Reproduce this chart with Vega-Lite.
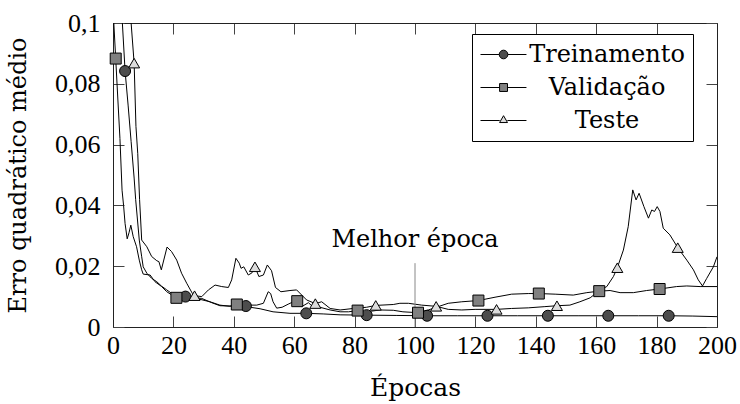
{
  "$schema": "https://vega.github.io/schema/vega-lite/v6.json",
  "width": 604,
  "height": 304,
  "autosize": {"type": "none"},
  "padding": {"left": 113, "top": 23, "right": 23, "bottom": 77},
  "background": "white",
  "config": {"view": {"stroke": null}, "font": "DejaVu Serif"},
  "datasets": {
    "curves": [
      {"s": "Treinamento", "e": 0, "v": 0.16}, {"s": "Treinamento", "e": 2, "v": 0.115}, {"s": "Treinamento", "e": 3.1, "v": 0.1}, {"s": "Treinamento", "e": 4, "v": 0.0842}, {"s": "Treinamento", "e": 5, "v": 0.073}, {"s": "Treinamento", "e": 6, "v": 0.061}, {"s": "Treinamento", "e": 7, "v": 0.049}, {"s": "Treinamento", "e": 7.5, "v": 0.042}, {"s": "Treinamento", "e": 8.7, "v": 0.0286}, {"s": "Treinamento", "e": 9.5, "v": 0.0231}, {"s": "Treinamento", "e": 10, "v": 0.0198}, {"s": "Treinamento", "e": 11.2, "v": 0.0177}, {"s": "Treinamento", "e": 12.8, "v": 0.016}, {"s": "Treinamento", "e": 14.5, "v": 0.0149}, {"s": "Treinamento", "e": 16, "v": 0.0135}, {"s": "Treinamento", "e": 17.8, "v": 0.0122}, {"s": "Treinamento", "e": 19.5, "v": 0.011}, {"s": "Treinamento", "e": 21.1, "v": 0.0103}, {"s": "Treinamento", "e": 24, "v": 0.01}, {"s": "Treinamento", "e": 26.5, "v": 0.0097}, {"s": "Treinamento", "e": 29.4, "v": 0.0094}, {"s": "Treinamento", "e": 32.7, "v": 0.008}, {"s": "Treinamento", "e": 35.4, "v": 0.007}, {"s": "Treinamento", "e": 39.3, "v": 0.0069}, {"s": "Treinamento", "e": 44, "v": 0.0069}, {"s": "Treinamento", "e": 45.4, "v": 0.0065}, {"s": "Treinamento", "e": 48.7, "v": 0.006}, {"s": "Treinamento", "e": 53, "v": 0.005}, {"s": "Treinamento", "e": 58.6, "v": 0.0045}, {"s": "Treinamento", "e": 64, "v": 0.0045}, {"s": "Treinamento", "e": 69.6, "v": 0.0043}, {"s": "Treinamento", "e": 75.2, "v": 0.004}, {"s": "Treinamento", "e": 84, "v": 0.0039}, {"s": "Treinamento", "e": 94, "v": 0.0038}, {"s": "Treinamento", "e": 104, "v": 0.0037}, {"s": "Treinamento", "e": 114, "v": 0.0037}, {"s": "Treinamento", "e": 124, "v": 0.0037}, {"s": "Treinamento", "e": 134, "v": 0.0037}, {"s": "Treinamento", "e": 144, "v": 0.0037}, {"s": "Treinamento", "e": 154, "v": 0.0037}, {"s": "Treinamento", "e": 164, "v": 0.0037}, {"s": "Treinamento", "e": 174, "v": 0.0037}, {"s": "Treinamento", "e": 184, "v": 0.0037}, {"s": "Treinamento", "e": 192, "v": 0.0036}, {"s": "Treinamento", "e": 200, "v": 0.0034},
      {"s": "Validação", "e": 0, "v": 0.105}, {"s": "Validação", "e": 0.9, "v": 0.0883}, {"s": "Validação", "e": 1.6, "v": 0.075}, {"s": "Validação", "e": 2.3, "v": 0.062}, {"s": "Validação", "e": 3.0, "v": 0.045}, {"s": "Validação", "e": 3.5, "v": 0.04}, {"s": "Validação", "e": 4.0, "v": 0.034}, {"s": "Validação", "e": 4.7, "v": 0.029}, {"s": "Validação", "e": 5.3, "v": 0.031}, {"s": "Validação", "e": 5.9, "v": 0.0335}, {"s": "Validação", "e": 6.7, "v": 0.0297}, {"s": "Validação", "e": 7.8, "v": 0.0264}, {"s": "Validação", "e": 8.7, "v": 0.022}, {"s": "Validação", "e": 9.5, "v": 0.0188}, {"s": "Validação", "e": 10, "v": 0.0174}, {"s": "Validação", "e": 12.3, "v": 0.0171}, {"s": "Validação", "e": 13.9, "v": 0.0149}, {"s": "Validação", "e": 16.1, "v": 0.0133}, {"s": "Validação", "e": 17.8, "v": 0.0116}, {"s": "Validação", "e": 21, "v": 0.0096}, {"s": "Validação", "e": 24, "v": 0.0095}, {"s": "Validação", "e": 26.6, "v": 0.0094}, {"s": "Validação", "e": 28.8, "v": 0.0091}, {"s": "Validação", "e": 32.1, "v": 0.0083}, {"s": "Validação", "e": 35.4, "v": 0.0072}, {"s": "Validação", "e": 38.7, "v": 0.0068}, {"s": "Validação", "e": 41, "v": 0.0074}, {"s": "Validação", "e": 44, "v": 0.0072}, {"s": "Validação", "e": 47.6, "v": 0.0072}, {"s": "Validação", "e": 49.8, "v": 0.0078}, {"s": "Validação", "e": 51.4, "v": 0.0116}, {"s": "Validação", "e": 52.2, "v": 0.011}, {"s": "Validação", "e": 53, "v": 0.0083}, {"s": "Validação", "e": 54.2, "v": 0.0062}, {"s": "Validação", "e": 56, "v": 0.0065}, {"s": "Validação", "e": 58, "v": 0.0075}, {"s": "Validação", "e": 59.7, "v": 0.0083}, {"s": "Validação", "e": 61, "v": 0.0085}, {"s": "Validação", "e": 62.5, "v": 0.0067}, {"s": "Validação", "e": 64.7, "v": 0.008}, {"s": "Validação", "e": 66, "v": 0.0068}, {"s": "Validação", "e": 68.5, "v": 0.0065}, {"s": "Validação", "e": 71.9, "v": 0.0056}, {"s": "Validação", "e": 75.2, "v": 0.005}, {"s": "Validação", "e": 78, "v": 0.005}, {"s": "Validação", "e": 81, "v": 0.0054}, {"s": "Validação", "e": 84, "v": 0.005}, {"s": "Validação", "e": 88.4, "v": 0.0056}, {"s": "Validação", "e": 92.8, "v": 0.0055}, {"s": "Validação", "e": 96, "v": 0.005}, {"s": "Validação", "e": 101, "v": 0.0047}, {"s": "Validação", "e": 104.4, "v": 0.0056}, {"s": "Validação", "e": 107.7, "v": 0.0067}, {"s": "Validação", "e": 111, "v": 0.0078}, {"s": "Validação", "e": 115.5, "v": 0.0083}, {"s": "Validação", "e": 121, "v": 0.0087}, {"s": "Validação", "e": 126.5, "v": 0.0098}, {"s": "Validação", "e": 132, "v": 0.0108}, {"s": "Validação", "e": 137.5, "v": 0.011}, {"s": "Validação", "e": 141, "v": 0.011}, {"s": "Validação", "e": 146.4, "v": 0.0108}, {"s": "Validação", "e": 152.4, "v": 0.0105}, {"s": "Validação", "e": 156.9, "v": 0.0113}, {"s": "Validação", "e": 161, "v": 0.0118}, {"s": "Validação", "e": 164.6, "v": 0.012}, {"s": "Validação", "e": 167.9, "v": 0.0113}, {"s": "Validação", "e": 172.3, "v": 0.0113}, {"s": "Validação", "e": 176.7, "v": 0.012}, {"s": "Validação", "e": 181, "v": 0.0125}, {"s": "Validação", "e": 186.6, "v": 0.0133}, {"s": "Validação", "e": 190, "v": 0.0135}, {"s": "Validação", "e": 194.4, "v": 0.0133}, {"s": "Validação", "e": 200, "v": 0.0133},
      {"s": "Teste", "e": 0, "v": 0.2}, {"s": "Teste", "e": 5, "v": 0.112}, {"s": "Teste", "e": 6, "v": 0.1}, {"s": "Teste", "e": 7, "v": 0.0868}, {"s": "Teste", "e": 7.6, "v": 0.066}, {"s": "Teste", "e": 8.2, "v": 0.057}, {"s": "Teste", "e": 8.8, "v": 0.042}, {"s": "Teste", "e": 9.5, "v": 0.0286}, {"s": "Teste", "e": 11.2, "v": 0.0264}, {"s": "Teste", "e": 12.8, "v": 0.0232}, {"s": "Teste", "e": 14.5, "v": 0.0218}, {"s": "Teste", "e": 15.2, "v": 0.0215}, {"s": "Teste", "e": 16, "v": 0.0188}, {"s": "Teste", "e": 17.9, "v": 0.0263}, {"s": "Teste", "e": 19.4, "v": 0.0248}, {"s": "Teste", "e": 21.1, "v": 0.022}, {"s": "Teste", "e": 22.7, "v": 0.0177}, {"s": "Teste", "e": 24.4, "v": 0.0144}, {"s": "Teste", "e": 26.3, "v": 0.011}, {"s": "Teste", "e": 27, "v": 0.0103}, {"s": "Teste", "e": 29.4, "v": 0.01}, {"s": "Teste", "e": 31.6, "v": 0.0122}, {"s": "Teste", "e": 33.8, "v": 0.0138}, {"s": "Teste", "e": 36, "v": 0.0133}, {"s": "Teste", "e": 38.2, "v": 0.013}, {"s": "Teste", "e": 39.3, "v": 0.0155}, {"s": "Teste", "e": 40.7, "v": 0.0226}, {"s": "Teste", "e": 41.8, "v": 0.021}, {"s": "Teste", "e": 42.4, "v": 0.0193}, {"s": "Teste", "e": 43.3, "v": 0.0198}, {"s": "Teste", "e": 44.8, "v": 0.0171}, {"s": "Teste", "e": 46, "v": 0.0178}, {"s": "Teste", "e": 47, "v": 0.0198}, {"s": "Teste", "e": 48.3, "v": 0.0166}, {"s": "Teste", "e": 49.8, "v": 0.0171}, {"s": "Teste", "e": 51.1, "v": 0.0204}, {"s": "Teste", "e": 52.5, "v": 0.0185}, {"s": "Teste", "e": 53.8, "v": 0.013}, {"s": "Teste", "e": 55.6, "v": 0.0116}, {"s": "Teste", "e": 58.6, "v": 0.012}, {"s": "Teste", "e": 60.8, "v": 0.0122}, {"s": "Teste", "e": 62.5, "v": 0.0105}, {"s": "Teste", "e": 64.1, "v": 0.0089}, {"s": "Teste", "e": 67, "v": 0.0077}, {"s": "Teste", "e": 69.1, "v": 0.0083}, {"s": "Teste", "e": 71.9, "v": 0.0061}, {"s": "Teste", "e": 75.2, "v": 0.0056}, {"s": "Teste", "e": 79.6, "v": 0.0061}, {"s": "Teste", "e": 84, "v": 0.0065}, {"s": "Teste", "e": 87, "v": 0.0071}, {"s": "Teste", "e": 92.8, "v": 0.0074}, {"s": "Teste", "e": 95, "v": 0.0078}, {"s": "Teste", "e": 97.8, "v": 0.0078}, {"s": "Teste", "e": 102.2, "v": 0.0072}, {"s": "Teste", "e": 107, "v": 0.0068}, {"s": "Teste", "e": 111, "v": 0.0058}, {"s": "Teste", "e": 115.5, "v": 0.0056}, {"s": "Teste", "e": 119.9, "v": 0.0058}, {"s": "Teste", "e": 127, "v": 0.0058}, {"s": "Teste", "e": 132, "v": 0.0061}, {"s": "Teste", "e": 137.5, "v": 0.0063}, {"s": "Teste", "e": 143, "v": 0.0067}, {"s": "Teste", "e": 147, "v": 0.007}, {"s": "Teste", "e": 151.3, "v": 0.0072}, {"s": "Teste", "e": 154.6, "v": 0.0083}, {"s": "Teste", "e": 158, "v": 0.0096}, {"s": "Teste", "e": 161.3, "v": 0.0122}, {"s": "Teste", "e": 163.5, "v": 0.0133}, {"s": "Teste", "e": 165.7, "v": 0.0166}, {"s": "Teste", "e": 167, "v": 0.0195}, {"s": "Teste", "e": 169, "v": 0.0253}, {"s": "Teste", "e": 170.6, "v": 0.033}, {"s": "Teste", "e": 172.1, "v": 0.0451}, {"s": "Teste", "e": 173.2, "v": 0.0418}, {"s": "Teste", "e": 174.2, "v": 0.044}, {"s": "Teste", "e": 175.8, "v": 0.0396}, {"s": "Teste", "e": 177.3, "v": 0.0358}, {"s": "Teste", "e": 178.4, "v": 0.0385}, {"s": "Teste", "e": 179.3, "v": 0.038}, {"s": "Teste", "e": 180.2, "v": 0.0396}, {"s": "Teste", "e": 181.1, "v": 0.038}, {"s": "Teste", "e": 182.2, "v": 0.0325}, {"s": "Teste", "e": 184.4, "v": 0.0303}, {"s": "Teste", "e": 187, "v": 0.0261}, {"s": "Teste", "e": 190, "v": 0.022}, {"s": "Teste", "e": 192.2, "v": 0.0188}, {"s": "Teste", "e": 193.8, "v": 0.0155}, {"s": "Teste", "e": 195.2, "v": 0.0135}, {"s": "Teste", "e": 196.6, "v": 0.016}, {"s": "Teste", "e": 198.8, "v": 0.0198}, {"s": "Teste", "e": 200, "v": 0.0231}
    ],
    "markers": [
      {"s": "Treinamento", "e": 4, "v": 0.0842}, {"s": "Treinamento", "e": 24, "v": 0.01}, {"s": "Treinamento", "e": 44, "v": 0.0069}, {"s": "Treinamento", "e": 64, "v": 0.0045}, {"s": "Treinamento", "e": 84, "v": 0.0039}, {"s": "Treinamento", "e": 104, "v": 0.0037}, {"s": "Treinamento", "e": 124, "v": 0.0037}, {"s": "Treinamento", "e": 144, "v": 0.0037}, {"s": "Treinamento", "e": 164, "v": 0.0037}, {"s": "Treinamento", "e": 184, "v": 0.0037},
      {"s": "Validação", "e": 0.9, "v": 0.0883}, {"s": "Validação", "e": 21, "v": 0.0096}, {"s": "Validação", "e": 41, "v": 0.0074}, {"s": "Validação", "e": 61, "v": 0.0085}, {"s": "Validação", "e": 81, "v": 0.0054}, {"s": "Validação", "e": 101, "v": 0.0047}, {"s": "Validação", "e": 121, "v": 0.0087}, {"s": "Validação", "e": 141, "v": 0.011}, {"s": "Validação", "e": 161, "v": 0.0118}, {"s": "Validação", "e": 181, "v": 0.0125},
      {"s": "Teste", "e": 7, "v": 0.0868}, {"s": "Teste", "e": 27, "v": 0.0103}, {"s": "Teste", "e": 47, "v": 0.0198}, {"s": "Teste", "e": 67, "v": 0.0077}, {"s": "Teste", "e": 87, "v": 0.0071}, {"s": "Teste", "e": 107, "v": 0.0068}, {"s": "Teste", "e": 127, "v": 0.0058}, {"s": "Teste", "e": 147, "v": 0.007}, {"s": "Teste", "e": 167, "v": 0.0195}, {"s": "Teste", "e": 187, "v": 0.0261}
    ],
    "annot": [{"e": 100, "v0": 0, "v1": 0.021, "yt": 0.0262, "t": "Melhor época"}]
  },
  "layer": [
    {
      "data": {"name": "curves"},
      "mark": {"type": "line", "clip": true, "color": "black", "strokeWidth": 1},
      "encoding": {
        "x": {"field": "e", "type": "quantitative", "scale": {"domain": [0, 200], "nice": false},
          "axis": {"orient": "bottom", "values": [0, 20, 40, 60, 80, 100, 120, 140, 160, 180, 200], "grid": false, "tickSize": -11, "tickColor": "#444", "domainColor": "#222", "labelFont": "Liberation Serif", "labelFontSize": 26, "labelColor": "black", "labelPadding": 16, "labelFlush": false, "labelOverlap": false, "title": "Épocas", "titleFont": "DejaVu Serif", "titleFontSize": 25, "titleFontWeight": "normal", "titleColor": "black", "titleY": 68, "titleBaseline": "alphabetic"}},
        "y": {"field": "v", "type": "quantitative", "scale": {"domain": [0, 0.1], "nice": false},
          "axis": {"orient": "left", "values": [0, 0.02, 0.04, 0.06, 0.08, 0.1], "grid": false, "tickSize": -11, "tickColor": "#444", "domainColor": "#222", "labelFont": "Liberation Serif", "labelFontSize": 26, "labelColor": "black", "labelPadding": 24, "labelExpr": "replace(format(datum.value, '.2~f'), '.', ',')", "title": "Erro quadrático médio", "titleFont": "DejaVu Serif", "titleFontSize": 24, "titleFontWeight": "normal", "titleColor": "black", "titleX": -95, "titleBaseline": "middle"}},
        "detail": {"field": "s", "type": "nominal"}
      }
    },
    {
      "data": {"name": "annot"},
      "mark": {"type": "rule", "color": "#888", "strokeWidth": 1},
      "encoding": {
        "x": {"field": "e", "type": "quantitative",
          "axis": {"orient": "top", "values": [0, 20, 40, 60, 80, 100, 120, 140, 160, 180, 200], "grid": false, "labels": false, "tickSize": -11, "tickColor": "#444", "domainColor": "#222", "title": null}},
        "y": {"field": "v0", "type": "quantitative",
          "axis": {"orient": "right", "values": [0, 0.02, 0.04, 0.06, 0.08, 0.1], "grid": false, "labels": false, "tickSize": -11, "tickColor": "#444", "domainColor": "#222", "title": null}},
        "y2": {"field": "v1"}
      }
    },
    {
      "data": {"name": "annot"},
      "mark": {"type": "text", "align": "center", "baseline": "alphabetic", "font": "DejaVu Serif", "fontSize": 24, "color": "black"},
      "encoding": {
        "x": {"field": "e", "type": "quantitative", "axis": null},
        "y": {"field": "yt", "type": "quantitative", "axis": null},
        "text": {"field": "t", "type": "nominal"}
      }
    },
    {
      "data": {"name": "markers"},
      "mark": {"type": "point", "filled": true, "stroke": "black", "strokeWidth": 1, "opacity": 1, "size": 121},
      "encoding": {
        "x": {"field": "e", "type": "quantitative", "axis": null},
        "y": {"field": "v", "type": "quantitative", "axis": null},
        "shape": {"field": "s", "type": "nominal", "scale": {"domain": ["Treinamento", "Validação", "Teste"], "range": ["circle", "square", "triangle-up"]}, "legend": null},
        "fill": {"field": "s", "type": "nominal", "scale": {"domain": ["Treinamento", "Validação", "Teste"], "range": ["#4d4d4d", "#808080", "#dcdcdc"]}, "legend": null}
      }
    },
    {
      "data": {"name": "markers"},
      "mark": {"type": "point", "filled": true, "stroke": "black", "strokeWidth": 1, "opacity": 1, "size": 0},
      "encoding": {
        "x": {"field": "e", "type": "quantitative", "axis": null},
        "y": {"field": "v", "type": "quantitative", "axis": null},
        "shape": {"field": "s", "type": "nominal", "scale": {"domain": ["Treinamento", "Validação", "Teste"], "range": ["M-1,0H0.56M1.28,0H2.83M0.56,0A0.36,0.36,0,1,1,1.28,0A0.36,0.36,0,1,1,0.56,0Z", "M-1,0H0.59M1.25,0H2.83M0.59,-0.33H1.25V0.33H0.59Z", "M-1,0H0.6M1.24,0H2.83M0.92,-0.4L1.25,0.17L0.59,0.17Z"]},
          "legend": {"title": null, "orient": "none", "legendX": 359, "legendY": 11, "strokeColor": "black", "fillColor": "white", "padding": 8, "cornerRadius": 0, "symbolSize": 576, "symbolStrokeColor": "black", "symbolStrokeWidth": 1, "symbolOpacity": 1, "labelFont": "DejaVu Serif", "labelFontSize": 24, "labelColor": "black", "labelAlign": "center", "labelOffset": 102, "rowPadding": 8,
            "encoding": {"symbols": {"stroke": {"value": "black"}, "strokeWidth": {"value": 1}, "strokeOpacity": {"value": 1}}}}},
        "fill": {"field": "s", "type": "nominal", "scale": {"domain": ["Treinamento", "Validação", "Teste"], "range": ["#4d4d4d", "#808080", "#dcdcdc"]},
          "legend": {"title": null, "orient": "none", "legendX": 359, "legendY": 11, "strokeColor": "black", "fillColor": "white", "padding": 8, "cornerRadius": 0, "symbolSize": 576, "symbolStrokeColor": "black", "symbolStrokeWidth": 1, "symbolOpacity": 1, "labelFont": "DejaVu Serif", "labelFontSize": 24, "labelColor": "black", "labelAlign": "center", "labelOffset": 102, "rowPadding": 8,
            "encoding": {"symbols": {"stroke": {"value": "black"}, "strokeWidth": {"value": 1}, "strokeOpacity": {"value": 1}}}}}
      }
    }
  ],
  "resolve": {
    "axis": {"x": "independent", "y": "independent"},
    "scale": {"shape": "independent", "fill": "independent"},
    "legend": {"shape": "independent", "fill": "independent"}
  }
}
